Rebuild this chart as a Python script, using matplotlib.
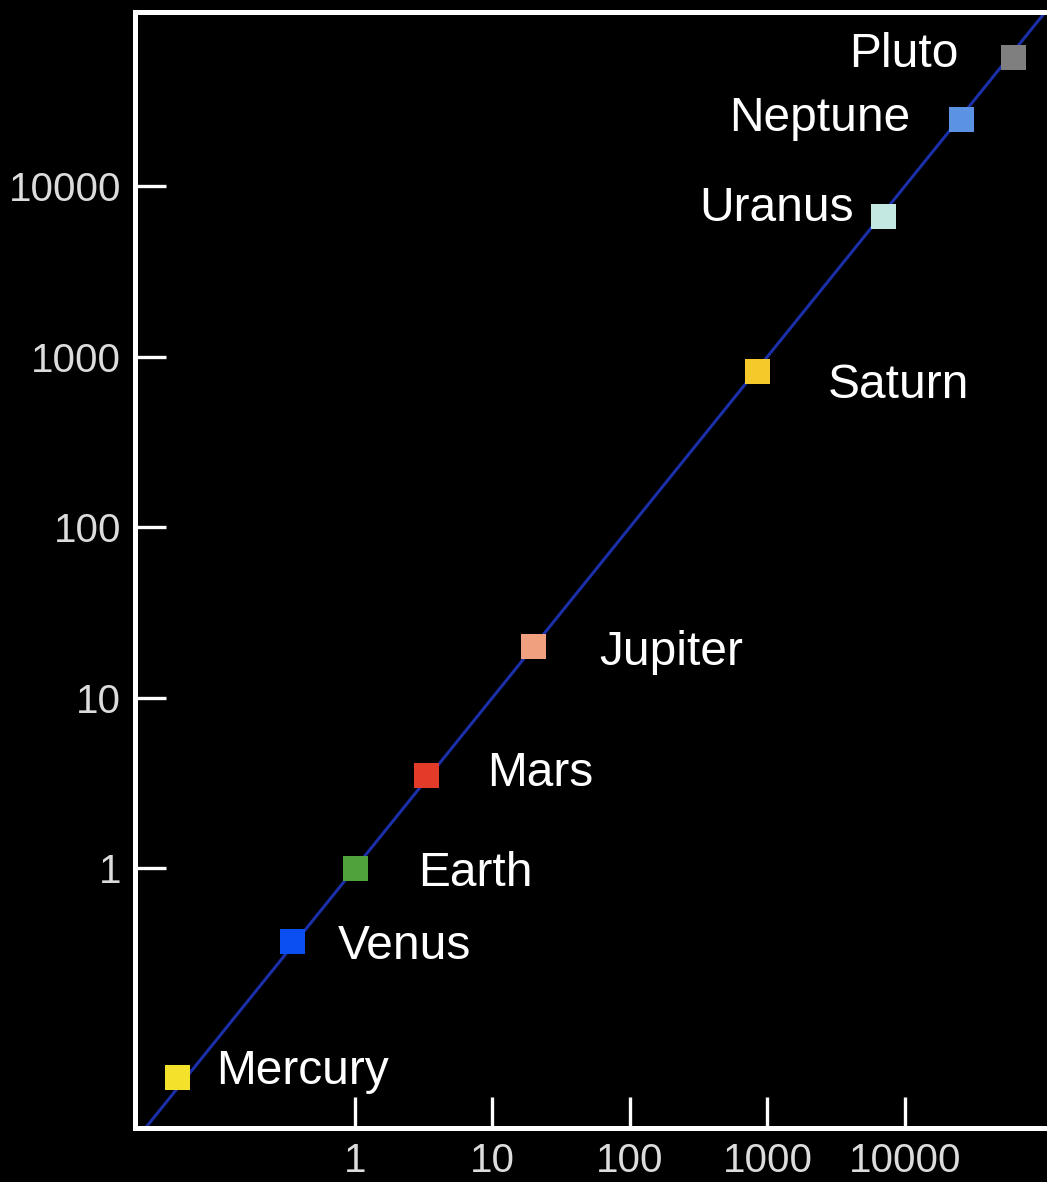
import matplotlib
matplotlib.use('Agg')
import matplotlib.pyplot as plt

# ── Data (a^3 vs P^2) ─────────────────────────────────────
planets = ['Mercury', 'Venus', 'Earth', 'Mars', 'Jupiter',
           'Saturn', 'Uranus', 'Neptune', 'Pluto']
a_cubed = [0.051, 0.35, 1.0, 3.3, 20, 840, 7000, 25900, 62000]
p_squared = [0.059, 0.37, 1.0, 3.5, 20, 820, 6650, 24700, 56500]
colors = ['#f4e12c', '#0b4ff2', '#4fa23c', '#e23b2a', '#f0a07e',
          '#f6c92a', '#c3e8e2', '#5b93e2', '#7f7f7f']
line_x = [0.02, 2e5]
line_y = [0.02, 2e5]
ticks = [1, 10, 100, 1000, 10000]
tick_labels = ['1', '10', '100', '1000', '10000']

# label offsets in pixels (dx, dy, ha)
label_pos = {
    'Mercury': (39, 6, 'left'),
    'Venus': (45, -5, 'left'),
    'Earth': (63, -5, 'left'),
    'Mars': (61, 2, 'left'),
    'Jupiter': (65, -6, 'left'),
    'Saturn': (71, -14, 'left'),
    'Uranus': (-30, 8, 'right'),
    'Neptune': (-51, 1, 'right'),
    'Pluto': (-55, 3, 'right'),
}

W, H = 1047, 1182
fig = plt.figure(figsize=(W / 100, H / 100), dpi=100)
fig.patch.set_facecolor('black')
ax = fig.add_axes([135 / W, (H - 1128) / H, (W - 135) / W, (1128 - 12) / H])
ax.set_facecolor('black')
ax.set_xscale('log')
ax.set_yscale('log')
ax.set_xlim(0.0251, 1.08e5)
ax.set_ylim(0.0299, 1.05e5)

ax.plot(line_x, line_y, color='#1a2fa8', linewidth=2.2, zorder=2)
ax.scatter(a_cubed, p_squared, marker='s', s=18**2, c=colors,
           edgecolors='none', zorder=3, clip_on=False)

for name, x, y in zip(planets, a_cubed, p_squared):
    dx, dy, ha = label_pos[name]
    ax.annotate(name, (x, y), xytext=(dx, dy), textcoords='offset pixels',
                ha=ha, va='center', color='white', fontsize=34.5,
                family='Liberation Sans')

for side in ['left', 'top', 'bottom']:
    ax.spines[side].set_color('white')
    ax.spines[side].set_linewidth(3.6)
ax.spines['right'].set_visible(False)

ax.minorticks_off()
ax.set_xticks(ticks)
ax.set_xticklabels(tick_labels)
ax.set_yticks(ticks)
ax.set_yticklabels(tick_labels)
ax.tick_params(direction='in', length=22, width=2.4, color='white',
               labelcolor='#dcdcdc', labelsize=29, pad=10)
for lbl in ax.get_xticklabels() + ax.get_yticklabels():
    lbl.set_family('Liberation Sans')

fig.savefig('out.png', dpi=100, facecolor='black')
